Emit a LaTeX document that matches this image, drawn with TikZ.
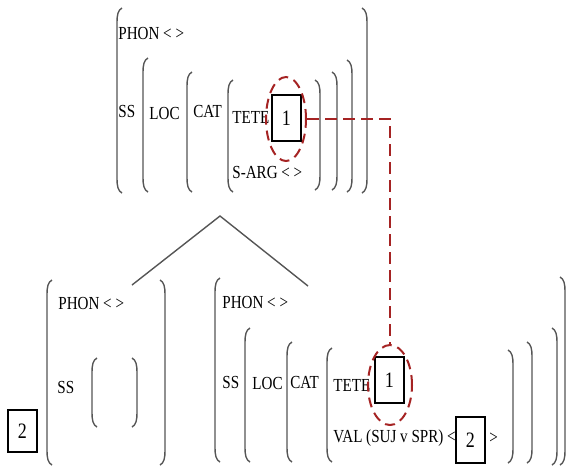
\documentclass[tikz,border=0pt]{standalone}
\usepackage{fontspec}
\setmainfont{Liberation Serif}[FakeStretch=0.82]
\usetikzlibrary{shapes.geometric}

\definecolor{tagred}{RGB}{165,35,35}
\definecolor{brkgray}{RGB}{85,85,85}

% AVM brackets: x, top y, bottom y
\newcommand{\avmL}[3]{\draw[brk] (#1+5,#2) .. controls (#1+1,#2+2) and (#1,#2+7) .. (#1,#2+14) -- (#1,#3-14) .. controls (#1,#3-7) and (#1+1,#3-2) .. (#1+5,#3);}
\newcommand{\avmR}[3]{\draw[brk] (#1-5,#2) .. controls (#1-1,#2+2) and (#1,#2+7) .. (#1,#2+14) -- (#1,#3-14) .. controls (#1,#3-7) and (#1-1,#3-2) .. (#1-5,#3);}

\begin{document}
\begin{tikzpicture}[
    x=0.5pt, y=-0.5pt,
    attr/.style={anchor=west, inner sep=0pt, font=\fontsize{9.2}{10}\selectfont},
    tag/.style={rectangle, draw, line width=0.6pt, minimum width=14.5pt, minimum height=23pt, inner sep=0pt, font=\fontsize{11}{12}\selectfont},
    share/.style={ellipse, draw=tagred, line width=1pt, dash pattern=on 5pt off 3pt, inner sep=0pt},
    link/.style={draw=tagred, line width=1.1pt, dash pattern=on 6pt off 3pt},
    brk/.style={brkgray, line width=0.7pt},
    branch/.style={draw=brkgray, line width=0.7pt}
]
\useasboundingbox (0,0) rectangle (567,468);

% Mother AVM
\node[attr] (phonA) at (118,33) {PHON < >};
\node[attr] (ssA) at (118,111) {SS};
\node[attr] (locA) at (149,113) {LOC};
\node[attr] (catA) at (193,111) {CAT};
\node[attr] (teteA) at (232,117) {TETE};
\node[tag] (tagA1) at (286.5,118) {1};
\node[share, minimum width=20pt, minimum height=42pt] (ellA) at (286,119) {};
\node[attr] (sargA) at (232,172) {S-ARG < >};
\avmL{117}{8}{193} \avmL{143}{58}{192} \avmL{187}{72}{192} \avmL{228}{80}{192}
\avmR{320}{80}{190} \avmR{337}{72}{190} \avmR{352}{60}{192} \avmR{367}{8}{193}

% Branches
\coordinate (mother) at (220,216);
\coordinate (dtrL) at (132,285);
\coordinate (dtrR) at (308,286);
\draw[branch] (dtrL) -- (mother) -- (dtrR);

% Left daughter
\node[tag, minimum height=21pt] (tagL2) at (22.5,431) {2};
\node[attr] (phonL) at (58,303) {PHON < >};
\node[attr] (ssL) at (57,387) {SS};
\avmL{47}{280}{465} \avmR{165}{280}{465}
\avmL{92}{358}{427} \avmR{137}{358}{427}

% Right daughter
\node[attr] (phonR) at (222,302) {PHON < >};
\node[attr] (ssR) at (222,382) {SS};
\node[attr] (locR) at (252,383) {LOC};
\node[attr] (catR) at (290,382) {CAT};
\node[attr] (teteR) at (333,385) {TETE};
\node[tag] (tagR1) at (389.5,380) {1};
\node[share, minimum width=22pt, minimum height=40pt] (ellB) at (390,385) {};
\node[attr] (valR) at (333,438) {VAL (SUJ v SPR) <};
\node[tag] (tagR2) at (470.5,440) {2};
\node[attr] (closeR) at (489,438) {>};
\avmL{215}{278}{462} \avmL{245}{328}{462} \avmL{287}{342}{462} \avmL{327}{348}{462}
\avmR{513}{350}{463} \avmR{532}{342}{463} \avmR{557}{328}{465} \avmR{565}{277}{465}

% Structure sharing
\draw[link] (ellA.east) -| (ellB.north);

\end{tikzpicture}
\end{document}
